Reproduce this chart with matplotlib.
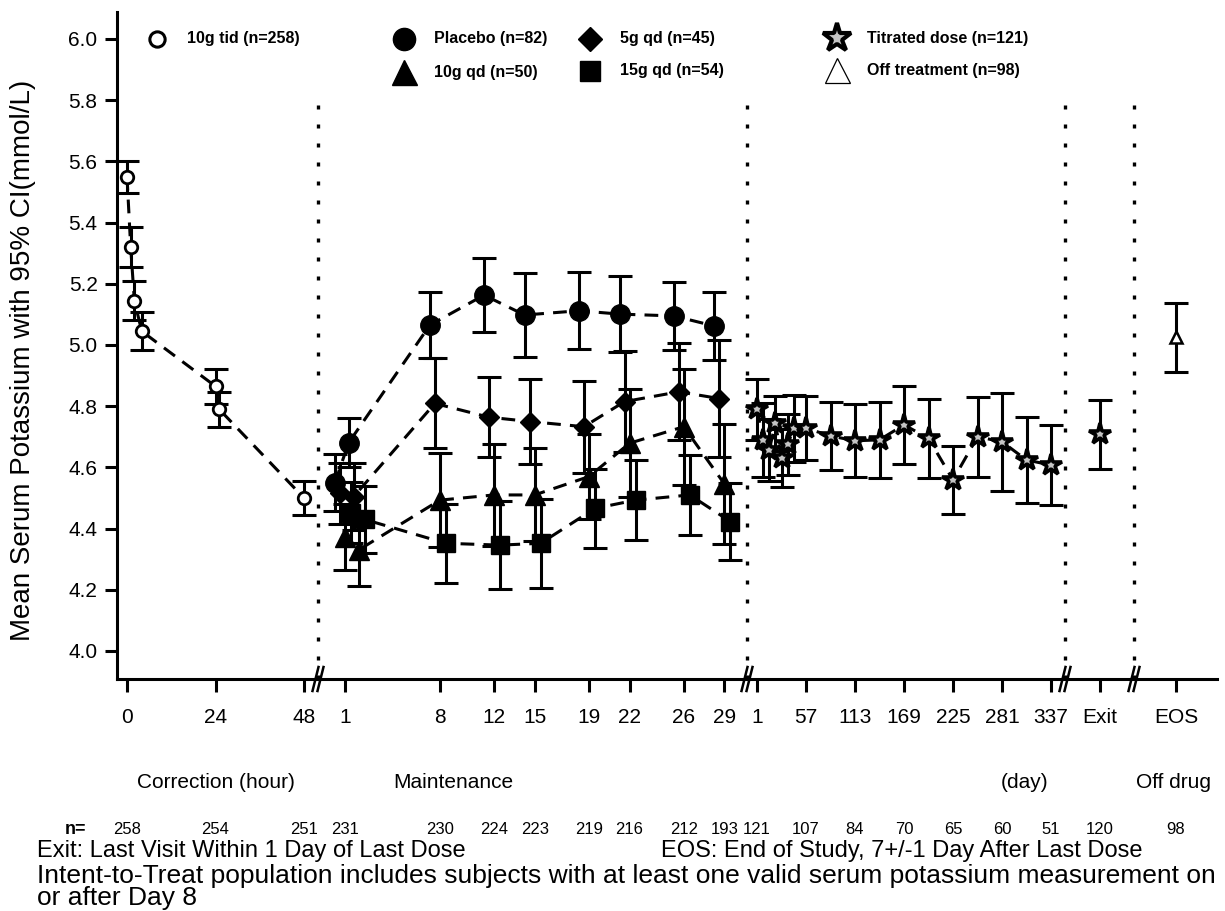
import numpy as np
import matplotlib.pyplot as plt
from matplotlib.lines import Line2D

plt.rcParams['font.family'] = ['Liberation Sans', 'DejaVu Sans']

# correction phase (hours), 10g tid
corr_hours = [0, 1, 2, 4, 24, 25, 48]
corr_mean = [5.55, 5.32, 5.145, 5.045, 4.865, 4.79, 4.50]
corr_ci = [0.052, 0.064, 0.063, 0.062, 0.058, 0.058, 0.054]

# maintenance phase (days)
maint_days = [1, 2, 8, 12, 15, 19, 22, 26, 29]
placebo_mean = [4.55, 4.68, 5.065, 5.163, 5.098, 5.112, 5.101, 5.095, 5.062]
placebo_ci = [0.093, 0.08, 0.108, 0.12, 0.138, 0.125, 0.124, 0.11, 0.112]
q5_mean = [4.516, 4.504, 4.809, 4.764, 4.75, 4.733, 4.815, 4.847, 4.825]
q5_ci = [0.10, 0.11, 0.147, 0.13, 0.14, 0.15, 0.165, 0.158, 0.19]
q10_mean = [4.373, 4.33, 4.493, 4.51, 4.51, 4.57, 4.679, 4.733, 4.546]
q10_ci = [0.108, 0.118, 0.153, 0.166, 0.152, 0.14, 0.176, 0.19, 0.196]
q15_mean = [4.452, 4.43, 4.352, 4.346, 4.352, 4.466, 4.493, 4.51, 4.423]
q15_ci = [0.10, 0.11, 0.13, 0.145, 0.145, 0.13, 0.13, 0.13, 0.126]

# long term, titrated dose (days)
lt_days = [1, 8, 15, 22, 29, 36, 43, 57, 85, 113, 141, 169, 197, 225, 253, 281, 309, 337]
lt_mean = [4.79, 4.69, 4.657, 4.744, 4.632, 4.676, 4.728, 4.728, 4.703, 4.687,
           4.69, 4.739, 4.695, 4.559, 4.70, 4.684, 4.624, 4.608]
lt_ci = [0.10, 0.12, 0.10, 0.09, 0.095, 0.10, 0.11, 0.105, 0.11, 0.12,
         0.125, 0.128, 0.13, 0.11, 0.13, 0.16, 0.14, 0.13]
exit_mean, exit_ci = 4.708, 0.112
eos_mean, eos_ci = 5.025, 0.113

tick_labels = ['0', '24', '48', '1', '8', '12', '15', '19', '22', '26', '29',
               '1', '57', '113', '169', '225', '281', '337', 'Exit', 'EOS']
n_labels = ['258', '254', '251', '231', '230', '224', '223', '219', '216', '212', '193',
            '121', '107', '84', '70', '65', '60', '51', '120', '98']


# x axis is laid out in pixel-like units, one segment per phase
def hour_x(h):
    return 127 + np.asarray(h, float) * 177 / 48

def mday_x(d):
    return 345 + (np.asarray(d, float) - 1) * 13.55

def lday_x(d):
    return 757 + (np.asarray(d, float) - 1) * 0.875

exit_x, eos_x = 1100, 1176
breaks = [318, 747, 1065, 1134]

W, H = 1225, 911
fig = plt.figure(figsize=(W / 100, H / 100), dpi=100)
ax = fig.add_axes([117 / W, 1 - 679 / H, 1100 / W, 667 / H])
ax.set_xlim(117, 1217)
ax.set_ylim(4.0 - 28 / 306, 6.0 + 27 / 306)

def fx(x):
    return x / W

def fy(y):
    return 1 - y / H

lw = 2.2
dash = (4.5, 3)


def series(x, m, ci, marker, ms, mfc='k', mew=1.0):
    ax.errorbar(x, m, yerr=ci, fmt='none', ecolor='k', elinewidth=lw,
                capsize=8.5, capthick=lw, zorder=2)
    ax.plot(x, m, color='k', lw=lw, ls='--', dashes=dash, zorder=3)
    ax.plot(x, m, ls='none', marker=marker, ms=ms, mfc=mfc, mec='k', mew=mew, zorder=4)


series(hour_x(corr_hours), corr_mean, corr_ci, 'o', 9, mfc='white', mew=2)
series(mday_x(maint_days) - 10, placebo_mean, placebo_ci, 'o', 14)
series(mday_x(maint_days) - 5, q5_mean, q5_ci, 'D', 10.5)
series(mday_x(maint_days), q10_mean, q10_ci, '^', 14.5)
series(mday_x(maint_days) + 6, q15_mean, q15_ci, 's', 12.5)
series(lday_x(lt_days), lt_mean, lt_ci, '*', 16, mfc='#c4c4c4', mew=2.6)
series([exit_x], [exit_mean], [exit_ci], '*', 16, mfc='#c4c4c4', mew=2.6)
ax.errorbar([eos_x], [eos_mean], yerr=[eos_ci], fmt='none', ecolor='k', elinewidth=lw,
            capsize=8.5, capthick=lw, zorder=2)
ax.plot([eos_x], [eos_mean], ls='none', marker='^', ms=8, mfc='white', mec='k', mew=1.8, zorder=4)

# dotted separators
for xb in breaks:
    ax.axvline(xb, ymin=0, ymax=0.864, color='k', lw=2.4, ls=(0, (1.2, 4.5)), zorder=1)

# axes styling
for s in ['top', 'right']:
    ax.spines[s].set_visible(False)
for s in ['left', 'bottom']:
    ax.spines[s].set_linewidth(2.2)
ax.set_yticks(np.arange(4.0, 6.01, 0.2))
ax.set_yticklabels(['%.1f' % v for v in np.arange(4.0, 6.01, 0.2)])
tick_x = list(hour_x([0, 24, 48])) + list(mday_x([1, 8, 12, 15, 19, 22, 26, 29])) + \
    list(lday_x([1, 57, 113, 169, 225, 281, 337])) + [exit_x, eos_x]
ax.set_xticks(tick_x)
ax.set_xticklabels(tick_labels)
ax.tick_params(axis='both', direction='out', length=9, width=2.2, labelsize=15, colors='k')
ax.tick_params(axis='x', pad=12)
ax.tick_params(axis='y', pad=5)

# axis break marks
for xb in breaks:
    for dx in (-2.5, 2.5):
        fig.add_artist(Line2D([fx(xb + dx - 3), fx(xb + dx + 3)], [fy(691), fy(667)],
                              color='k', lw=1.8))

fig.text(fx(23), fy(360), 'Mean Serum Potassium with 95% CI(mmol/L)', rotation=90,
         ha='center', va='center', fontsize=20)

# legend drawn by hand
leg = [
    (157, 39, 'o', 11, 'white', 2.2, '10g tid (n=258)'),
    (404, 39, 'o', 16, 'k', 1, 'Placebo (n=82)'),
    (590, 39, 'D', 12, 'k', 1, '5g qd (n=45)'),
    (404, 72, '^', 18, 'k', 1, '10g qd (n=50)'),
    (590, 71, 's', 15, 'k', 1, '15g qd (n=54)'),
    (837, 38, '*', 21, '#c4c4c4', 3, 'Titrated dose (n=121)'),
    (837, 70, '^', 18, 'white', 0.9, 'Off treatment (n=98)'),
]
for x, y, mk, ms, fc, mw, lab in leg:
    fig.add_artist(Line2D([fx(x)], [fy(y)], marker=mk, ms=ms, mfc=fc, mec='k', mew=mw, ls='none'))
    fig.text(fx(x + 30), fy(y), lab, ha='left', va='center', fontsize=11.5, fontweight='bold')

# phase labels
fig.text(fx(216), fy(782), 'Correction (hour)', ha='center', va='center', fontsize=15)
fig.text(fx(453), fy(782), 'Maintenance', ha='center', va='center', fontsize=15)
fig.text(fx(1025), fy(782), '(day)', ha='center', va='center', fontsize=15)
fig.text(fx(1173), fy(782), 'Off drug', ha='center', va='center', fontsize=15)

# number of subjects row
fig.text(fx(76), fy(829), 'n=', ha='center', va='center', fontsize=13, fontweight='bold')
for x, lab in zip(tick_x, n_labels):
    fig.text(fx(x), fy(829), lab, ha='center', va='center', fontsize=12)

fig.text(fx(37), fy(851), 'Exit: Last Visit Within 1 Day of Last Dose',
         ha='left', va='center', fontsize=17)
fig.text(fx(661), fy(851), 'EOS: End of Study, 7+/-1 Day After Last Dose',
         ha='left', va='center', fontsize=17)
fig.text(fx(37), fy(876), 'Intent-to-Treat population includes subjects with at least one '
         'valid serum potassium measurement on', ha='left', va='center', fontsize=19)
fig.text(fx(37), fy(898), 'or after Day 8', ha='left', va='center', fontsize=19)

fig.savefig('out.png', dpi=100)
